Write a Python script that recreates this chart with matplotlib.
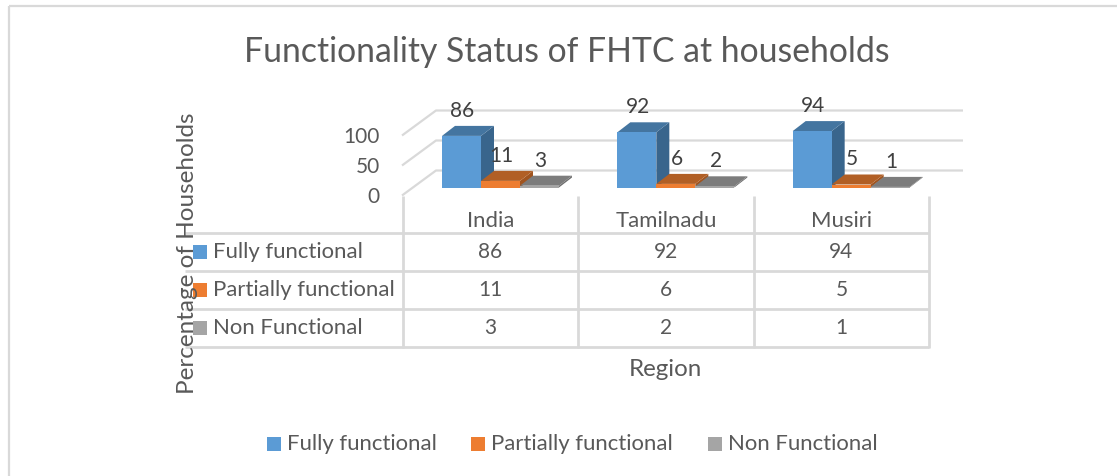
# Functionality status of FHTC - 3D style clustered bars with data table
import matplotlib
matplotlib.use("Agg")
import matplotlib.pyplot as plt
from matplotlib.patches import Polygon, Rectangle
from matplotlib.transforms import Affine2D

plt.rcParams["font.family"] = ["Lato", "DejaVu Sans"]

regions = ["India", "Tamilnadu", "Musiri"]
series_names = ["Fully functional", "Partially functional", "Non Functional"]
fully = [86, 92, 94]
partially = [11, 6, 5]
non_functional = [3, 2, 1]
y_ticks = [0, 50, 100]

front_colors = ["#5B9BD5", "#ED7D31", "#A5A5A5"]
top_colors = ["#4475A0", "#B15F25", "#7C7C7C"]
side_colors = ["#39658C", "#A0541F", "#6E6E6E"]
line_color = "#D9D9D9"
text_color = "#595959"
label_color = "#404040"

W, H = 1117, 477
fig = plt.figure(figsize=(W / 100, H / 100), dpi=100)
ax = fig.add_axes([0, 0, 1, 1])
ax.axis("off")

# pixel layout of the plot: one x unit is a category, y is in percent
cat_w = (929 - 403) / 3
px_per_pct = 0.6
shift = 1.5
x0, y0 = 403, 187 + shift
ax.set_xlim(-x0 / cat_w, (W - x0) / cat_w)
ax.set_ylim((y0 - H) / px_per_pct, y0 / px_per_pct)

# helper transform for layout in image pixels
px = Affine2D().translate(0, shift).scale(1 / W, -1 / H).translate(0, 1) + fig.transFigure

depth_x = 13 / cat_w
depth_y = 10 / px_per_pct
bar_w = 39 / cat_w
start = 39 / cat_w
digits = 15
words = 15.9


def px_line(xs, ys, lw=1.6):
    ax.plot(xs, ys, color=line_color, lw=lw, transform=px, clip_on=False, zorder=1,
            solid_capstyle="butt")


# chart frame
px_line([8.5, 8.5], [477, 5])
px_line([8.5, 1117], [5, 5])

# walls with gridlines
for t in y_ticks:
    py = 170 - t * px_per_pct
    px_line([402, 436, 963], [py + 25, py, py])
    ax.text(380, py + 26, str(t), transform=px, ha="right", va="center",
            fontsize=digits, color=text_color)

# bars
all_values = [fully, partially, non_functional]
for s, values in enumerate(all_values):
    for c, v in enumerate(values):
        left = c + start + s * bar_w
        right = left + bar_w
        side = [(right, 0), (right + depth_x, depth_y), (right + depth_x, v + depth_y), (right, v)]
        top = [(left, v), (right, v), (right + depth_x, v + depth_y), (left + depth_x, v + depth_y)]
        ax.add_patch(Polygon(side, closed=True, fc=side_colors[s], ec="none", zorder=3 + s))
        ax.add_patch(Polygon(top, closed=True, fc=top_colors[s], ec="none", zorder=3 + s))
        ax.bar(left, v, width=bar_w, align="edge", color=front_colors[s], zorder=3 + s)
        ax.text(left + bar_w / 2 + 1 / cat_w, v + 26 / px_per_pct, str(v), ha="center",
                va="center", fontsize=digits, color=label_color, zorder=10)

# data table
col_x = [403, 578, 754, 929]
row_y = [232, 270, 308, 346]
for x in col_x:
    px_line([x, x], [195, 347], lw=2)
for y in row_y:
    px_line([185, 929], [y, y], lw=2)
for c, name in enumerate(regions):
    mid = (col_x[c] + col_x[c + 1]) / 2
    ax.text(mid, 220, name, transform=px, ha="center", va="center", fontsize=words, color=text_color)
for s, values in enumerate(all_values):
    cy = (row_y[s] + row_y[s + 1]) / 2
    ax.add_patch(Rectangle((193, cy - 7), 14, 14, fc=front_colors[s], ec="none", transform=px, zorder=4))
    ax.text(213, cy, series_names[s], transform=px, ha="left", va="center",
            fontsize=words, color=text_color, zorder=5)
    for c, v in enumerate(values):
        mid = (col_x[c] + col_x[c + 1]) / 2
        ax.text(mid, cy, str(v), transform=px, ha="center", va="center", fontsize=digits, color=text_color)

# titles
ax.text(567, 50, "Functionality Status of FHTC at households", transform=px, ha="center",
        va="center", fontsize=24.3, color=text_color)
ax.text(187.5, 252, "Percentage of Households", transform=px, ha="center", va="center",
        rotation=90, fontsize=17.5, color=text_color, zorder=6)
ax.text(665, 368, "Region", transform=px, ha="center", va="center", fontsize=17.4, color=text_color)

# bottom legend
legend_x = [267, 471, 708]
for s, lx in enumerate(legend_x):
    ax.add_patch(Rectangle((lx, 436), 14, 14, fc=front_colors[s], ec="none", transform=px))
    ax.text(lx + 20, 443, series_names[s], transform=px, ha="left", va="center",
            fontsize=words, color=text_color)

fig.savefig("out.png", dpi=100, facecolor="white")
